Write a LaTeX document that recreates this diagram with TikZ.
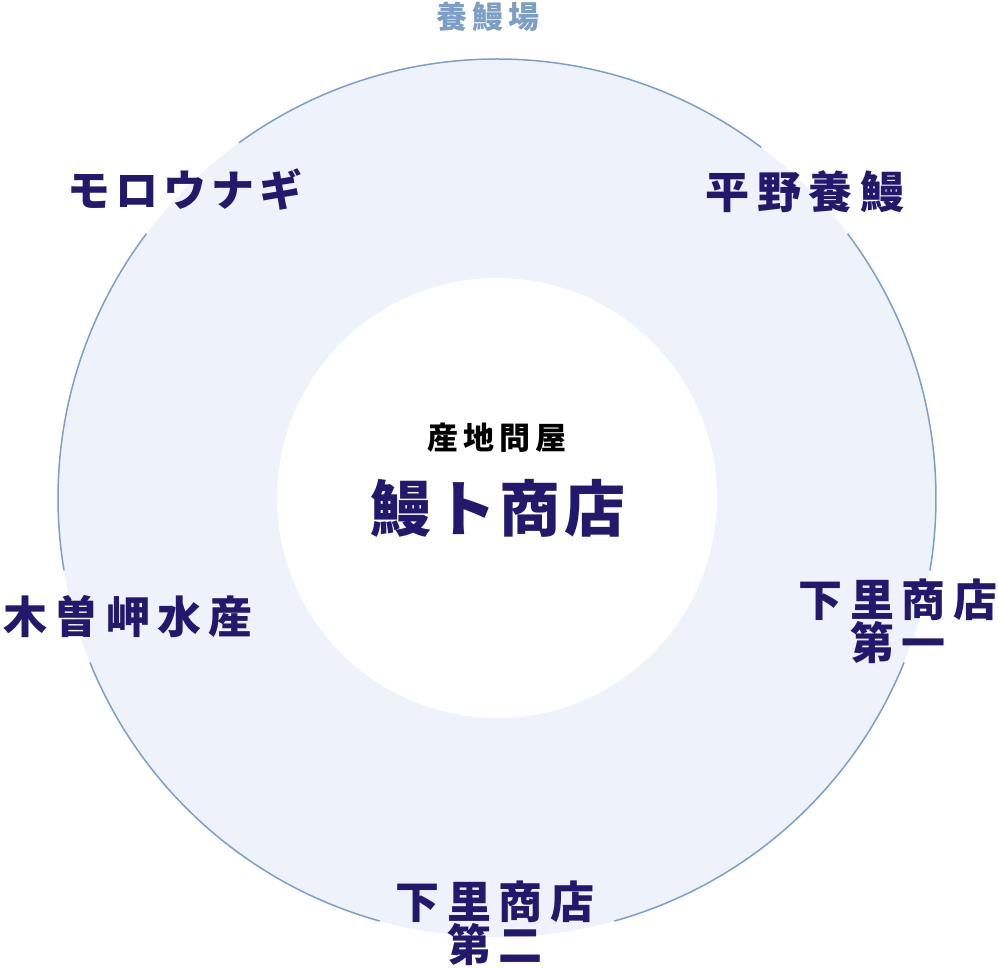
\documentclass[tikz,border=0pt]{standalone}
\usepackage{fontspec}
\newfontfamily\jp{Noto Sans CJK JP}
\definecolor{navy}{HTML}{22196C}
\definecolor{ringfill}{HTML}{EEF2FA}
\definecolor{ringline}{HTML}{7D9FC6}
\tikzset{
  lbl/.style={inner sep=0pt, text=navy, align=center,
    font=\jp\bfseries\addfontfeature{LetterSpace=17}\fontsize{44}{43}\selectfont},
}
\begin{document}
\begin{tikzpicture}[x=1pt,y=1pt]
            \useasboundingbox (0,0) rectangle (998,967);
            \coordinate (c) at (497,469);
            \fill[ringfill] (c) circle (439);
            \fill[white] (c) circle (220);
            % outer line, broken under the labels
            \foreach \a/\b in {53/126, 143/189.5, 202/254.5, 285.5/338, -9.5/37}
                \draw[ringline, line width=1.5pt] (c) ++(\a:439) arc[start angle=\a, end angle=\b, radius=439];
            \node[lbl, text=ringline, font=\jp\bfseries\addfontfeature{LetterSpace=17}\fontsize{31}{33}\selectfont] (farm) at (488,950) {養鰻場};
            \node[lbl, font=\jp\bfseries\addfontfeature{LetterSpace=12}\fontsize{43}{45}\selectfont] (moro) at (185,777) {モロウナギ};
            \node[lbl] (hirano) at (805,775) {平野養鰻};
            \node[lbl] (kiso) at (128,350) {木曽岬水産};
            \node[lbl] (shimo1) at (898,346) {下里商店\\第一};
            \node[lbl] (shimo2) at (495,44) {下里商店\\第二};
            \node[lbl, text=black, font=\jp\bfseries\addfontfeature{LetterSpace=17}\fontsize{31}{33}\selectfont] (sub) at (497,529) {産地問屋};
            \node[lbl, font=\jp\bfseries\addfontfeature{LetterSpace=6}\fontsize{61}{63}\selectfont] (main) at (498,459) {鰻ト商店};
        \end{tikzpicture}
\end{document}
